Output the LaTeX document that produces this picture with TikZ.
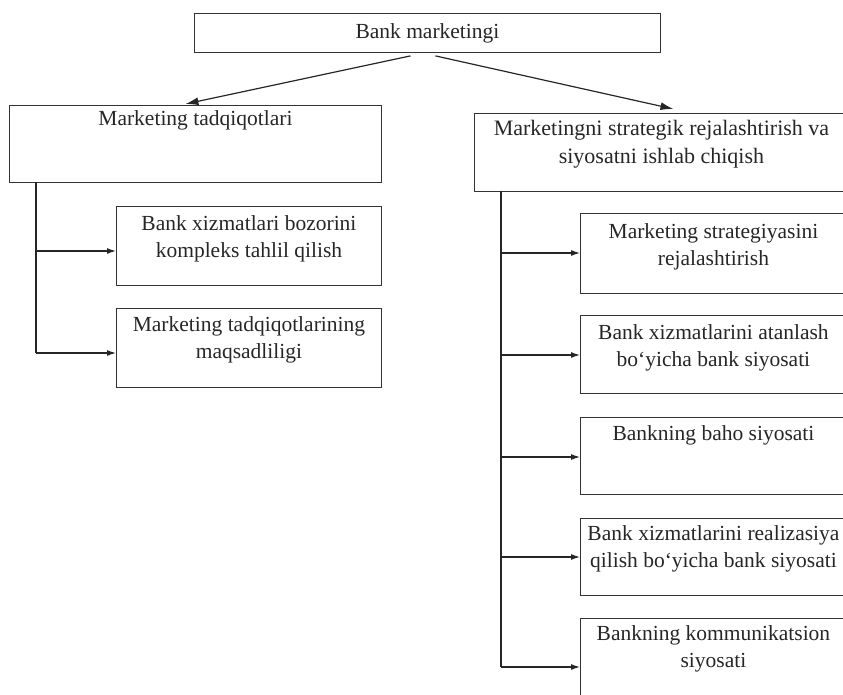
\documentclass[tikz,border=0pt]{standalone}
\usepackage{fontspec}
\setmainfont{Liberation Serif}
\usetikzlibrary{arrows.meta,calc}
\begin{document}
\begin{tikzpicture}[x=1pt,y=-1pt,
  box/.style={draw=black!80, line width=0.9pt, anchor=north west, inner sep=0pt},
  txt/.style={anchor=north, align=center, inner sep=0pt, text=black!85,
              font=\fontsize{21.5}{27.5}\selectfont},
  link/.style={draw=black!85, line width=1.2pt},
  bigtip/.style={-{Latex[length=13pt,width=8pt]}},
  smalltip/.style={-{Latex[length=9pt,width=6pt]}}]
\useasboundingbox (0,0) rectangle (843,695);

% top level
\node[box, minimum width=466pt, minimum height=39pt] (top) at (194,13) {};
\node[txt] (topt) at ($(top.north)+(0,10)$) {Bank marketingi};

% left branch
\node[box, minimum width=372pt, minimum height=77pt] (lt) at (9,105) {};
\node[txt] (ltt) at ($(lt.north)+(0,5)$) {Marketing tadqiqotlari};
\node[box, minimum width=265pt, minimum height=79pt] (lc1) at (116,206) {};
\node[txt] (lc1t) at ($(lc1.north)+(0,9)$) {Bank xizmatlari bozorini\\kompleks tahlil qilish};
\node[box, minimum width=265pt, minimum height=79pt] (lc2) at (116,308) {};
\node[txt] (lc2t) at ($(lc2.north)+(0,8)$) {Marketing tadqiqotlarining\\maqsadliligi};

% right branch (boxes run past the right margin)
\node[box, minimum width=374pt, minimum height=78pt] (rt) at (474,113) {};
\node[txt, font=\fontsize{22}{28}\selectfont] (rtt) at ($(rt.north)+(0,7)$) {Marketingni strategik rejalashtirish va\\siyosatni ishlab chiqish};
\node[box, minimum width=266pt, minimum height=80pt] (rc1) at (580,213) {};
\node[txt] (rc1t) at ($(rc1.north)+(0,10)$) {Marketing strategiyasini\\rejalashtirish};
\node[box, minimum width=266pt, minimum height=78pt] (rc2) at (580,315) {};
\node[txt] (rc2t) at ($(rc2.north)+(0,9)$) {Bank xizmatlarini atanlash\\bo‘yicha bank siyosati};
\node[box, minimum width=266pt, minimum height=77pt] (rc3) at (580,417) {};
\node[txt] (rc3t) at ($(rc3.north)+(0,8)$) {Bankning baho siyosati};
\node[box, minimum width=266pt, minimum height=77pt] (rc4) at (580,518) {};
\node[txt] (rc4t) at ($(rc4.north)+(0,7)$) {Bank xizmatlarini realizasiya\\qilish bo‘yicha bank siyosati};
\node[box, minimum width=266pt, minimum height=82pt] (rc5) at (580,618) {};
\node[txt] (rc5t) at ($(rc5.north)+(0,7)$) {Bankning kommunikatsion\\siyosati};

% connectors from the top box
\coordinate (sl) at ($(top.south)+(-17,3)$);
\coordinate (sr) at ($(top.south)+(8,3)$);
\draw[link,bigtip] (sl) -- ($(lt.north)+(-10,-1)$);
\draw[link,bigtip] (sr) -- ($(rt.north)+(12,-4)$);

% left bus
\coordinate (lb0) at (36,182);
\coordinate (lb1) at (36,251);
\coordinate (lb2) at (36,353);
\draw[link] (lb0) -- (lb2);
\draw[link,smalltip] (lb1) -- (lb1 -| lc1.west);
\draw[link,smalltip] (lb2) -- (lb2 -| lc2.west);

% right bus
\coordinate (rb0) at (501,191);
\coordinate (rb1) at (501,253);
\coordinate (rb2) at (501,355);
\coordinate (rb3) at (501,457);
\coordinate (rb4) at (501,557);
\coordinate (rb5) at (501,667);
\draw[link] (rb0) -- (rb5);
\draw[link,smalltip] (rb1) -- (rb1 -| rc1.west);
\draw[link,smalltip] (rb2) -- (rb2 -| rc2.west);
\draw[link,smalltip] (rb3) -- (rb3 -| rc3.west);
\draw[link,smalltip] (rb4) -- (rb4 -| rc4.west);
\draw[link,smalltip] (rb5) -- (rb5 -| rc5.west);
\end{tikzpicture}
\end{document}
